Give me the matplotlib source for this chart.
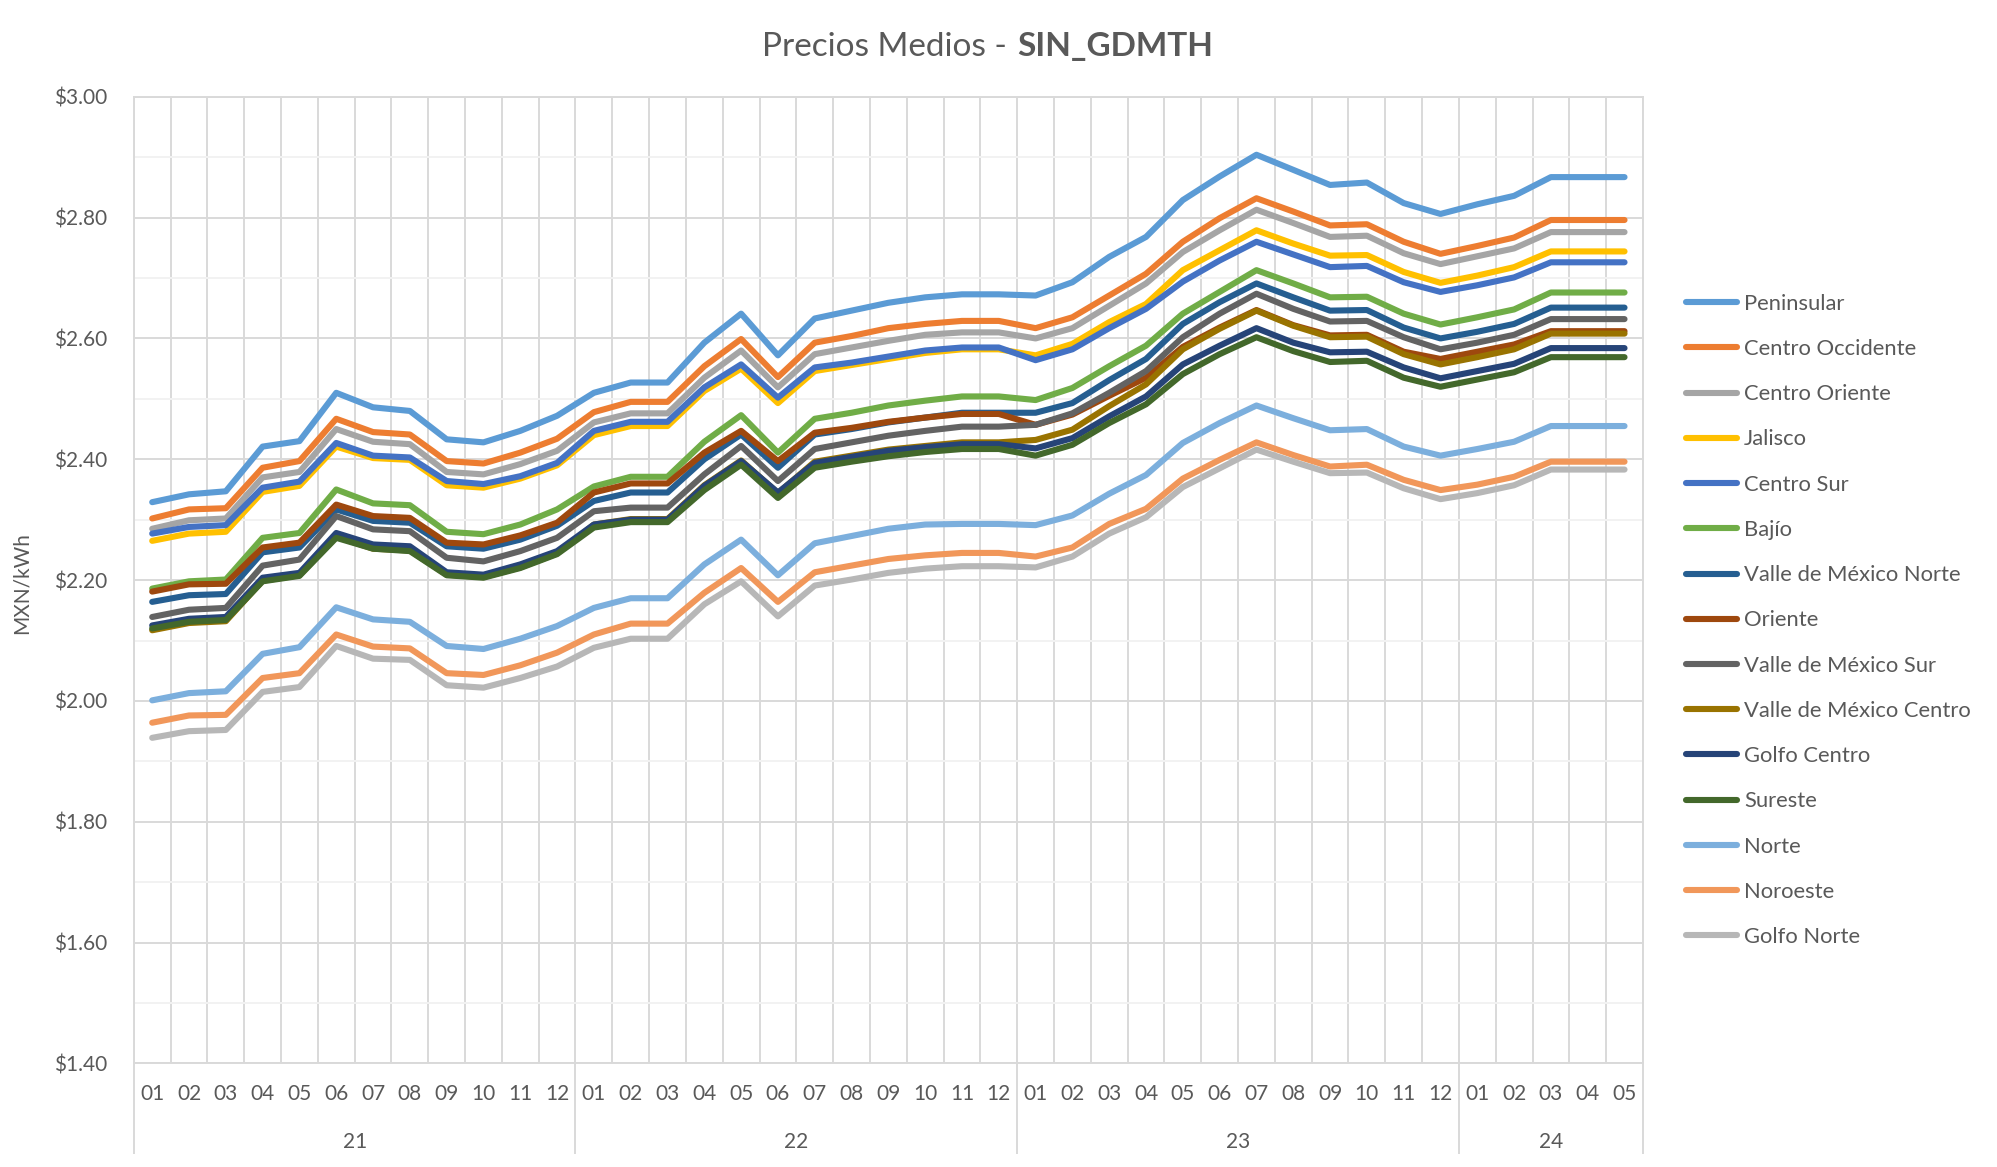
import numpy as np
import matplotlib.pyplot as plt
import matplotlib.ticker as mticker
from matplotlib.lines import Line2D

plt.rcParams['font.family'] = ['Lato', 'DejaVu Sans']

TEXTCOLOR = '#595959'
GRIDCOLOR = '#D9D9D9'
MINORCOLOR = '#F2F2F2'

years = ['21', '22', '23', '24']
months_per_year = [12, 12, 12, 5]
month_labels = ['%02d' % m for n in months_per_year for m in range(1, n + 1)]

series_names = ['Peninsular', 'Centro Occidente', 'Centro Oriente', 'Jalisco', 'Centro Sur',
                'Bajío', 'Valle de México Norte', 'Oriente', 'Valle de México Sur',
                'Valle de México Centro', 'Golfo Centro', 'Sureste', 'Norte', 'Noroeste',
                'Golfo Norte']
COLORS = ['#5B9BD5', '#ED7D31', '#A5A5A5', '#FFC000', '#4472C4', '#70AD47', '#255E91',
          '#9E480E', '#636363', '#997300', '#264478', '#43682B', '#7CAFDD', '#F1975A',
          '#B7B7B7']

peninsular = [2.329, 2.342, 2.347, 2.421, 2.430, 2.510, 2.486, 2.480, 2.433, 2.428, 2.447, 2.472,
              2.510, 2.527, 2.527, 2.593, 2.641, 2.572, 2.633, 2.646, 2.659, 2.668, 2.673, 2.673,
              2.671, 2.693, 2.735, 2.768, 2.829, 2.868, 2.904, 2.879, 2.854, 2.858, 2.824, 2.806,
              2.822, 2.836, 2.867, 2.867, 2.867]
centro_occidente = [2.302, 2.317, 2.319, 2.386, 2.397, 2.467, 2.445, 2.441, 2.397, 2.393, 2.411, 2.434,
                    2.478, 2.495, 2.495, 2.554, 2.599, 2.536, 2.593, 2.604, 2.617, 2.624, 2.629, 2.629,
                    2.617, 2.635, 2.671, 2.707, 2.760, 2.799, 2.832, 2.810, 2.787, 2.789, 2.760, 2.740,
                    2.753, 2.767, 2.796, 2.796, 2.796]
centro_oriente = [2.285, 2.299, 2.302, 2.370, 2.379, 2.450, 2.429, 2.425, 2.379, 2.375, 2.392, 2.414,
                  2.461, 2.476, 2.476, 2.535, 2.580, 2.519, 2.574, 2.585, 2.596, 2.606, 2.610, 2.610,
                  2.600, 2.617, 2.654, 2.691, 2.743, 2.779, 2.813, 2.791, 2.768, 2.770, 2.741, 2.723,
                  2.736, 2.749, 2.776, 2.776, 2.776]
jalisco = [2.265, 2.277, 2.280, 2.346, 2.356, 2.421, 2.402, 2.399, 2.357, 2.353, 2.368, 2.390,
           2.440, 2.455, 2.455, 2.513, 2.550, 2.493, 2.546, 2.556, 2.566, 2.576, 2.582, 2.582,
           2.572, 2.591, 2.627, 2.657, 2.713, 2.746, 2.779, 2.757, 2.737, 2.738, 2.710, 2.692,
           2.704, 2.718, 2.744, 2.744, 2.744]
centro_sur = [2.277, 2.288, 2.291, 2.353, 2.363, 2.427, 2.406, 2.403, 2.364, 2.359, 2.372, 2.394,
              2.447, 2.462, 2.462, 2.519, 2.557, 2.502, 2.552, 2.560, 2.570, 2.580, 2.585, 2.585,
              2.564, 2.582, 2.617, 2.649, 2.694, 2.729, 2.760, 2.739, 2.718, 2.720, 2.693, 2.677,
              2.688, 2.701, 2.726, 2.726, 2.726]
bajio = [2.186, 2.198, 2.201, 2.270, 2.278, 2.350, 2.327, 2.324, 2.280, 2.276, 2.292, 2.317,
         2.355, 2.371, 2.371, 2.429, 2.473, 2.411, 2.467, 2.477, 2.489, 2.497, 2.504, 2.504,
         2.498, 2.518, 2.554, 2.588, 2.641, 2.677, 2.713, 2.691, 2.668, 2.669, 2.641, 2.623,
         2.635, 2.648, 2.676, 2.676, 2.676]
vm_norte = [2.164, 2.175, 2.177, 2.246, 2.254, 2.317, 2.298, 2.295, 2.256, 2.252, 2.267, 2.290,
            2.331, 2.345, 2.345, 2.400, 2.441, 2.386, 2.441, 2.450, 2.461, 2.469, 2.477, 2.477,
            2.477, 2.493, 2.531, 2.566, 2.624, 2.660, 2.691, 2.668, 2.646, 2.647, 2.618, 2.600,
            2.611, 2.624, 2.651, 2.651, 2.651]
oriente = [2.181, 2.193, 2.194, 2.254, 2.262, 2.325, 2.306, 2.303, 2.262, 2.259, 2.274, 2.295,
           2.345, 2.360, 2.360, 2.411, 2.447, 2.397, 2.444, 2.452, 2.462, 2.469, 2.475, 2.475,
           2.457, 2.474, 2.505, 2.535, 2.586, 2.618, 2.647, 2.622, 2.605, 2.606, 2.578, 2.566,
           2.578, 2.590, 2.612, 2.612, 2.612]
vm_sur = [2.139, 2.151, 2.154, 2.224, 2.234, 2.306, 2.284, 2.281, 2.237, 2.231, 2.248, 2.270,
          2.314, 2.320, 2.320, 2.375, 2.422, 2.364, 2.417, 2.428, 2.439, 2.447, 2.454, 2.454,
          2.457, 2.476, 2.510, 2.546, 2.602, 2.641, 2.674, 2.649, 2.628, 2.629, 2.602, 2.582,
          2.593, 2.606, 2.632, 2.632, 2.632]
vm_centro = [2.117, 2.129, 2.132, 2.199, 2.208, 2.272, 2.252, 2.249, 2.209, 2.205, 2.221, 2.244,
             2.292, 2.301, 2.301, 2.357, 2.398, 2.344, 2.396, 2.406, 2.416, 2.422, 2.428, 2.428,
             2.432, 2.449, 2.488, 2.524, 2.582, 2.616, 2.646, 2.621, 2.602, 2.603, 2.574, 2.557,
             2.569, 2.582, 2.608, 2.608, 2.608]
golfo_centro = [2.125, 2.136, 2.139, 2.204, 2.212, 2.278, 2.259, 2.256, 2.213, 2.209, 2.226, 2.248,
                2.292, 2.300, 2.300, 2.356, 2.397, 2.345, 2.394, 2.404, 2.414, 2.420, 2.425, 2.425,
                2.418, 2.435, 2.471, 2.504, 2.557, 2.588, 2.617, 2.593, 2.577, 2.578, 2.552, 2.534,
                2.546, 2.558, 2.584, 2.584, 2.584]
sureste = [2.120, 2.131, 2.134, 2.198, 2.207, 2.270, 2.252, 2.248, 2.208, 2.204, 2.220, 2.243,
           2.287, 2.296, 2.296, 2.349, 2.391, 2.336, 2.386, 2.396, 2.405, 2.412, 2.417, 2.417,
           2.406, 2.424, 2.460, 2.491, 2.541, 2.574, 2.602, 2.579, 2.561, 2.563, 2.535, 2.520,
           2.532, 2.544, 2.569, 2.569, 2.569]
norte = [2.001, 2.013, 2.016, 2.078, 2.089, 2.155, 2.135, 2.131, 2.091, 2.086, 2.103, 2.124,
         2.154, 2.170, 2.170, 2.226, 2.267, 2.208, 2.261, 2.273, 2.285, 2.292, 2.293, 2.293,
         2.291, 2.307, 2.343, 2.374, 2.427, 2.460, 2.489, 2.468, 2.448, 2.450, 2.421, 2.406,
         2.417, 2.429, 2.455, 2.455, 2.455]
noroeste = [1.964, 1.976, 1.977, 2.038, 2.046, 2.110, 2.090, 2.087, 2.046, 2.043, 2.059, 2.080,
            2.110, 2.128, 2.128, 2.179, 2.220, 2.164, 2.213, 2.224, 2.235, 2.241, 2.245, 2.245,
            2.239, 2.254, 2.293, 2.318, 2.368, 2.399, 2.428, 2.407, 2.388, 2.391, 2.366, 2.349,
            2.358, 2.371, 2.396, 2.396, 2.396]
golfo_norte = [1.939, 1.950, 1.952, 2.015, 2.023, 2.091, 2.070, 2.068, 2.026, 2.022, 2.038, 2.057,
               2.088, 2.103, 2.103, 2.160, 2.198, 2.140, 2.191, 2.201, 2.212, 2.219, 2.223, 2.223,
               2.221, 2.239, 2.277, 2.304, 2.354, 2.385, 2.416, 2.396, 2.377, 2.378, 2.352, 2.334,
               2.344, 2.357, 2.383, 2.383, 2.383]

all_series = [peninsular, centro_occidente, centro_oriente, jalisco, centro_sur, bajio,
              vm_norte, oriente, vm_sur, vm_centro, golfo_centro, sureste, norte, noroeste,
              golfo_norte]

fig = plt.figure(figsize=(19.97, 11.67), dpi=100)
ax = fig.add_axes([0.0670, 0.0887, 0.7557, 0.8284])

x = np.arange(len(month_labels))
for vals, name, col in zip(all_series, series_names, COLORS):
    ax.plot(x, vals, color=col, linewidth=4.4, label=name,
            solid_capstyle='round', solid_joinstyle='round', zorder=3)

ax.set_xlim(-0.5, len(month_labels) - 0.5)
ax.set_ylim(1.40, 3.00)

# y axis: majors every 0.20, lighter minors every 0.10
ax.yaxis.set_major_locator(mticker.MultipleLocator(0.2))
ax.yaxis.set_minor_locator(mticker.MultipleLocator(0.1))
ax.yaxis.set_major_formatter(mticker.FuncFormatter(lambda v, p: '\\$%.2f' % v))
ax.grid(axis='y', which='major', color=GRIDCOLOR, linewidth=1.4, zorder=0)
ax.grid(axis='y', which='minor', color=MINORCOLOR, linewidth=1.4, zorder=0)

# x axis: category labels, gridlines between categories
ax.set_xticks(x)
ax.set_xticklabels(month_labels)
ax.set_xticks(np.arange(-0.5, len(month_labels), 1), minor=True)
ax.grid(axis='x', which='minor', color=GRIDCOLOR, linewidth=1.4, zorder=0)

ax.tick_params(axis='both', which='both', length=0, labelsize=15, labelcolor=TEXTCOLOR)
ax.tick_params(axis='y', pad=19)
ax.tick_params(axis='x', pad=15)

for s in ax.spines.values():
    s.set_color(GRIDCOLOR)
    s.set_linewidth(1.4)

# year group labels and separators
trans = ax.get_xaxis_transform()
start = 0
bounds = [-0.5]
for yr, n in zip(years, months_per_year):
    ax.text(start + (n - 1) / 2, -0.0815, yr, transform=trans, ha='center', va='center',
            fontsize=15, color=TEXTCOLOR)
    start += n
    bounds.append(start - 0.5)
for b in bounds:
    ax.add_line(Line2D([b, b], [0, -0.093], transform=trans, color=GRIDCOLOR,
                       linewidth=1.4, clip_on=False))

fig.text(22 / 1997, 0.5, 'MXN/kWh', rotation=90, ha='center', va='center',
         fontsize=15, color=TEXTCOLOR)

fig.text(1007 / 1997, 0.9522, 'Precios Medios -', ha='right', va='baseline',
         fontsize=24, color=TEXTCOLOR)
fig.text(1017 / 1997, 0.9522, 'SIN_GDMTH', ha='left', va='baseline',
         fontsize=24, color=TEXTCOLOR, fontweight='bold')

leg = ax.legend(loc='upper left', bbox_to_anchor=(1677 / 1997, 1 - 285 / 1167),
                bbox_transform=fig.transFigure, frameon=False, fontsize=15.8,
                handlelength=2.35, handletextpad=0.3, labelspacing=1.15,
                borderaxespad=0)
for t in leg.get_texts():
    t.set_color(TEXTCOLOR)

fig.savefig('out.png', dpi=100, facecolor='white')
